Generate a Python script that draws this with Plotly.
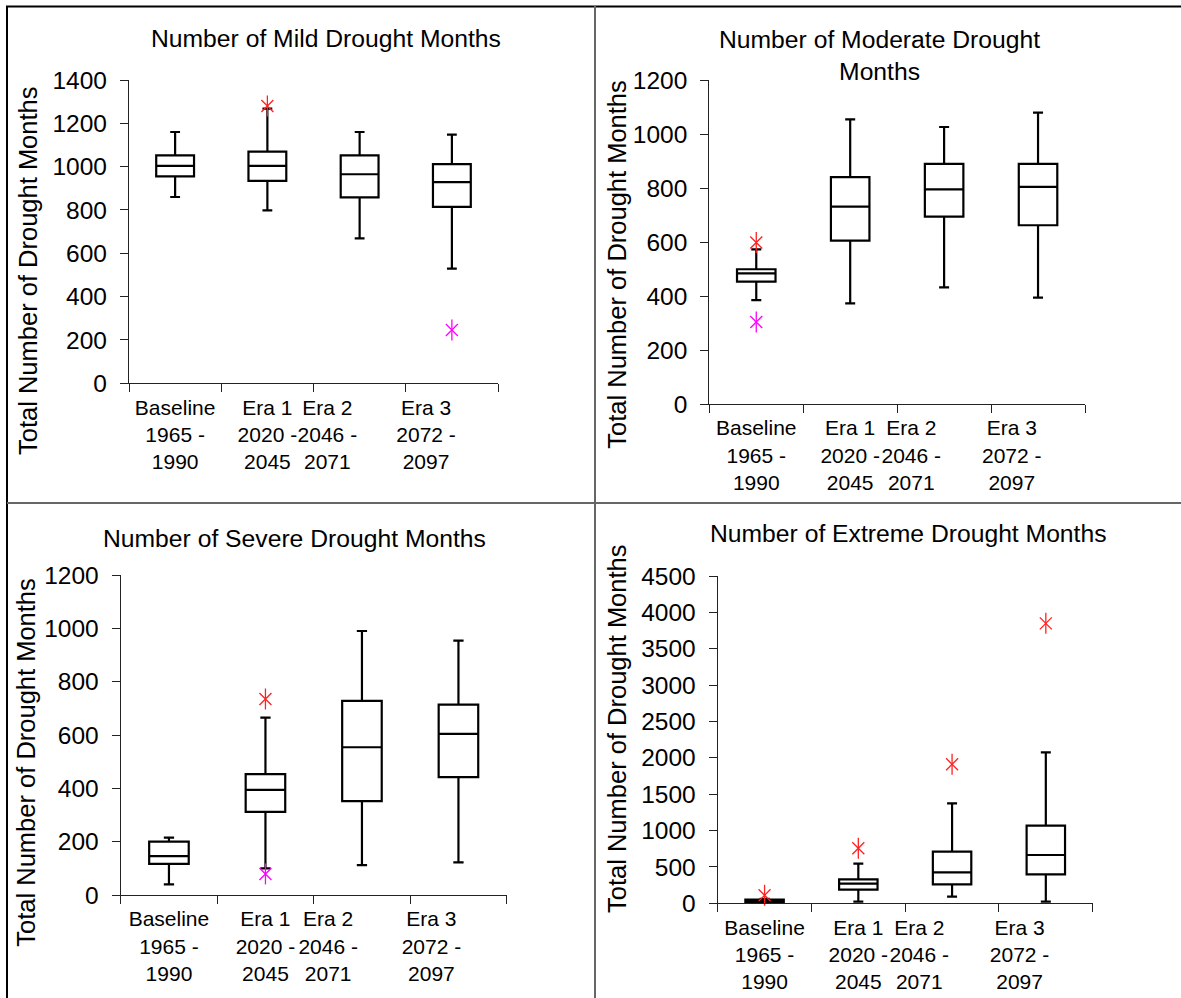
import plotly.graph_objects as go

W, H = 1181, 998

# ---------------- data ----------------
categories = ["Baseline<br>1965 -<br>1990", "Era 1<br>2020 -<br>2045", "Era 2<br>2046 -<br>2071", "Era 3<br>2072 -<br>2097"]
box_pos = [0.5, 1.5, 2.5, 3.5]
label_pos = [0.5, 1.5, 2.15, 3.22]

titles = ["Number of Mild Drought Months",
          "Number of Moderate Drought<br>Months",
          "Number of Severe Drought Months",
          "Number of Extreme Drought Months"]

mild_lower = [860, 798, 669, 529]
mild_q1 = [955, 934, 858, 814]
mild_median = [1004, 1004, 965, 929]
mild_q3 = [1052, 1069, 1052, 1012]
mild_upper = [1160, 1268, 1160, 1148]
mild_out_high_x = [1.5]
mild_out_high_y = [1280]
mild_out_low_x = [3.5]
mild_out_low_y = [246]

mod_lower = [385, 373, 432, 394]
mod_q1 = [453, 605, 694, 662]
mod_median = [484, 731, 795, 804]
mod_q3 = [499, 840, 889, 889]
mod_upper = [573, 1054, 1026, 1079]
mod_out_high_x = [0.5]
mod_out_high_y = [598]
mod_out_low_x = [0.5]
mod_out_low_y = [304]

sev_lower = [40, 100, 112, 122]
sev_q1 = [117, 312, 352, 442]
sev_median = [146, 394, 554, 604]
sev_q3 = [200, 453, 728, 714]
sev_upper = [215, 665, 990, 954]
sev_out_high_x = [1.5]
sev_out_high_y = [735]
sev_out_low_x = [1.5]
sev_out_low_y = [79]

ext_lower = [0, 23, 92, 23]
ext_q1 = [10, 188, 261, 398]
ext_median = [30, 270, 426, 664]
ext_q3 = [50, 330, 710, 1067]
ext_upper = [60, 545, 1375, 2076]
ext_out_high_x = [0.5, 1.5, 2.5, 3.5]
ext_out_high_y = [110, 756, 1911, 3849]
ext_out_low_x = []
ext_out_low_y = []

y_max = [1400, 1200, 1200, 4500]
y_dtick = [200, 200, 200, 500]

# ---------------- layout helpers ----------------
def px_x(x):
    return x / W

def px_y(y):
    return 1 - y / H

# plot areas in pixels: (x0, x1, ytop, ybottom)
areas = [(129, 498, 80, 383.3),
         (709.3, 1085, 80, 404),
         (120.7, 506.7, 575, 895),
         (717.7, 1092.7, 576, 903.3)]

panels = [
    (mild_lower, mild_q1, mild_median, mild_q3, mild_upper,
     mild_out_high_x, mild_out_high_y, mild_out_low_x, mild_out_low_y),
    (mod_lower, mod_q1, mod_median, mod_q3, mod_upper,
     mod_out_high_x, mod_out_high_y, mod_out_low_x, mod_out_low_y),
    (sev_lower, sev_q1, sev_median, sev_q3, sev_upper,
     sev_out_high_x, sev_out_high_y, sev_out_low_x, sev_out_low_y),
    (ext_lower, ext_q1, ext_median, ext_q3, ext_upper,
     ext_out_high_x, ext_out_high_y, ext_out_low_x, ext_out_low_y),
]

title_pos = [(325.5, 39), (879, 55), (294, 538), (908.7, 533)]
ytitle_pos = [(28, 271), (616.7, 264), (25.7, 762), (617, 729)]

FONT = "Arial, Liberation Sans, sans-serif"
fig = go.Figure()
layout = dict(
    template="none",
    width=W, height=H,
    margin=dict(l=0, r=0, t=0, b=0, pad=0),
    paper_bgcolor="white", plot_bgcolor="white",
    showlegend=False,
    font=dict(family=FONT, color="black"),
)
annotations = []

for i, (lo, q1, med, q3, up, ohx, ohy, olx, oly) in enumerate(panels):
    n = "" if i == 0 else str(i + 1)
    xa, ya = "x" + n, "y" + n
    fig.add_trace(go.Box(
        x=box_pos, lowerfence=lo, q1=q1, median=med, q3=q3, upperfence=up,
        xaxis=xa, yaxis=ya, width=0.41, whiskerwidth=0.26,
        line=dict(color="black", width=2.2), fillcolor="white",
        boxpoints=False, hoverinfo="skip",
    ))
    for xs, ys, col in ((ohx, ohy, "#FF2020"), (olx, oly, "#FF00FF")):
        if not xs:
            continue
        for sym in ("x-thin-open", "line-ns-open"):
            fig.add_trace(go.Scatter(
                x=xs, y=ys, xaxis=xa, yaxis=ya, mode="markers",
                marker=dict(symbol=sym, color=col,
                            size=12 if sym == "x-thin-open" else 15,
                            line=dict(color=col, width=1.3)),
                hoverinfo="skip", cliponaxis=False,
            ))
    x0, x1, yt, yb = areas[i]
    layout["xaxis" + n] = dict(
        domain=[px_x(x0), px_x(x1)], range=[0, 4], anchor=ya,
        automargin=False,
        showline=True, linecolor="#222", linewidth=1.2,
        tickmode="array", tickvals=label_pos, ticktext=categories,
        ticks="", tickangle=0, ticklabelstandoff=5,
        tickfont=dict(size=21, family=FONT, color="black"),
        minor=dict(tickmode="array", tickvals=[0, 1, 2, 3, 4], ticks="outside",
                   ticklen=8, tickcolor="#222", tickwidth=1.2, showgrid=False),
        showgrid=False, zeroline=False, fixedrange=True,
    )
    layout["yaxis" + n] = dict(
        domain=[px_y(yb), px_y(yt)], range=[0, y_max[i]], anchor=xa,
        automargin=False,
        showline=True, linecolor="#222", linewidth=1.2,
        tickmode="linear", tick0=0, dtick=y_dtick[i],
        ticks="outside", ticklen=8, tickcolor="#222", tickwidth=1.2,
        ticklabelstandoff=8,
        tickfont=dict(size=24.5, family=FONT, color="black"),
        showgrid=False, zeroline=False, fixedrange=True,
    )
    tx, ty = title_pos[i]
    annotations.append(dict(
        text=titles[i], x=px_x(tx), y=px_y(ty), xref="paper", yref="paper",
        showarrow=False, xanchor="center", yanchor="middle",
        font=dict(size=24.7, family=FONT, color="black"),
    ))
    ax_, ay_ = ytitle_pos[i]
    annotations.append(dict(
        text="Total Number of Drought Months", x=px_x(ax_), y=px_y(ay_),
        xref="paper", yref="paper", showarrow=False, textangle=-90,
        xanchor="center", yanchor="middle",
        font=dict(size=25.5, family=FONT, color="black"),
    ))

layout["annotations"] = annotations
layout["shapes"] = [
    dict(type="line", xref="paper", yref="paper", x0=px_x(6), x1=1, y0=px_y(6.5), y1=px_y(6.5),
         line=dict(color="black", width=2.2)),
    dict(type="line", xref="paper", yref="paper", x0=px_x(7), x1=px_x(7), y0=px_y(6), y1=0,
         line=dict(color="black", width=2)),
    dict(type="line", xref="paper", yref="paper", x0=px_x(595), x1=px_x(595), y0=px_y(6), y1=0,
         line=dict(color="#666666", width=2)),
    dict(type="line", xref="paper", yref="paper", x0=px_x(7), x1=1, y0=px_y(503), y1=px_y(503),
         line=dict(color="#666666", width=2)),
]
fig.update_layout(**layout)
fig.write_html("out.html", config={"displayModeBar": False},
               post_script="document.body.style.margin='0';document.body.style.padding='0';")
